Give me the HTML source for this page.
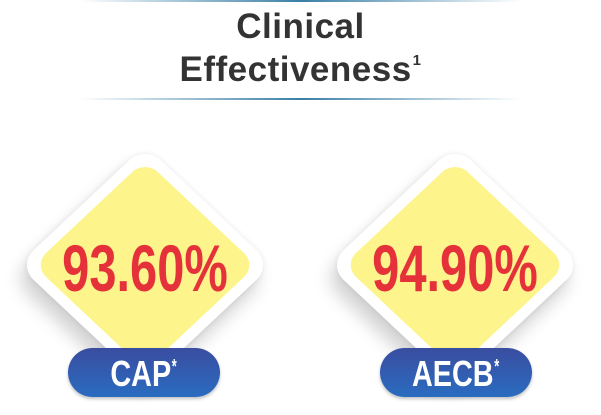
<!DOCTYPE html>
<html><head><meta charset="utf-8"><style>
body{margin:0;width:601px;height:411px;background:#fff;overflow:hidden;position:relative;font-family:"Liberation Sans",sans-serif}
.line{position:absolute;left:80px;width:441px;height:2px;background:linear-gradient(90deg,rgba(40,110,150,0),#3a7fa6 50%,rgba(40,110,150,0))}
.title{position:absolute;left:0;width:601px;text-align:center;font-weight:bold;color:#333;font-size:35px;letter-spacing:0.5px;line-height:40px}
.tsup{font-size:15px;position:relative;top:-16px;margin-left:1px}
.card{position:absolute;width:300px;height:300px}
.outer{position:absolute;left:50%;top:50%;width:180px;height:180px;margin:-90px 0 0 -90px;background:#fff;border-radius:22px;transform:scaleY(0.94) rotate(45deg);box-shadow:0 0 6px rgba(0,0,0,0.08),6px 14px 18px rgba(0,0,0,0.18)}
.dia{position:absolute;left:50%;top:50%;width:158px;height:158px;margin:-79px 0 0 -79px;background:#fdf48c;border-radius:18px;transform:scaleY(0.94) rotate(45deg)}
.val{position:absolute;left:0;width:300px;text-align:center;top:121px;font-weight:bold;color:#e5323a;font-size:66px;line-height:64px;transform:scaleX(0.74)}
.pill{position:absolute;height:49px;border-radius:25px;background:linear-gradient(#3a4da0,#2a6cc0);color:#fff;font-weight:bold;font-size:36px;text-align:center;line-height:52px;box-shadow:0 2px 3px rgba(0,0,0,0.25)}
.pill span{display:inline-block;transform:scaleX(0.8)}
.psup{font-size:20px;position:relative;top:-13px}
</style></head><body>
<div class="line" style="top:0"></div>
<div class="title" style="top:7px">Clinical</div>
<div class="title" style="top:50px">Effectiveness<span class="tsup">1</span></div>
<div class="line" style="top:98px"></div>

<div class="card" style="left:-5px;top:115px">
 <div class="outer"></div>
 <div class="dia"></div>
 <div class="val">93.60%</div>
</div>
<div class="pill" style="left:68px;top:348px;width:152px"><span>CAP<span class="psup">*</span></span></div>

<div class="card" style="left:305px;top:115px">
 <div class="outer"></div>
 <div class="dia"></div>
 <div class="val">94.90%</div>
</div>
<div class="pill" style="left:380px;top:348px;width:152px"><span>AECB<span class="psup">*</span></span></div>
</body></html>
